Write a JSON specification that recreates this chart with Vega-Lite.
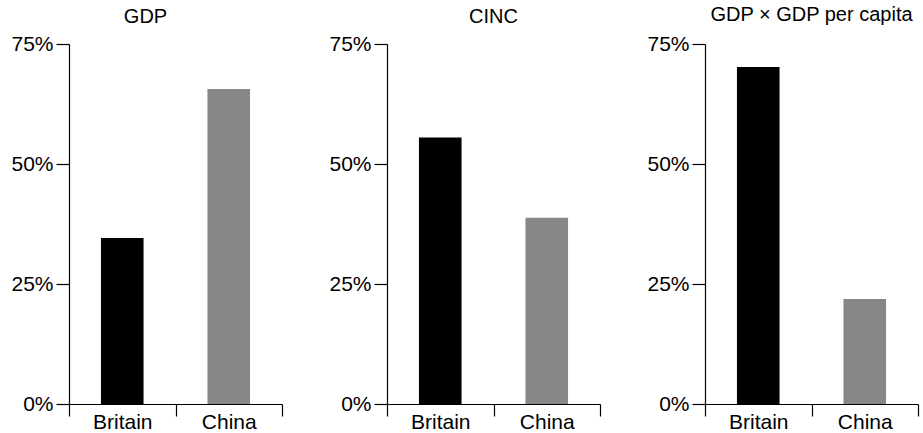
{
  "$schema": "https://vega.github.io/schema/vega-lite/v6.json",
  "padding": {"left": 10, "top": 5, "right": 5, "bottom": 0},
  "background": "white",
  "data": {
    "values": [
      {"measure": "GDP", "country": "Britain", "share": 0.346},
      {"measure": "GDP", "country": "China", "share": 0.656},
      {"measure": "CINC", "country": "Britain", "share": 0.555},
      {"measure": "CINC", "country": "China", "share": 0.388},
      {"measure": "GDPxPC", "country": "Britain", "share": 0.702},
      {"measure": "GDPxPC", "country": "China", "share": 0.219}
    ]
  },
  "spacing": 45,
  "hconcat": [
    {
      "title": {"text": "GDP", "dx": -30},
      "width": 213,
      "height": 360,
      "transform": [{"filter": "datum.measure === 'GDP'"}],
      "mark": {"type": "bar", "width": {"band": 0.4}},
      "encoding": {
        "x": {"field": "country", "type": "nominal", "scale": {"paddingInner": 0, "paddingOuter": 0}},
        "y": {"field": "share", "type": "quantitative", "scale": {"domain": [0, 0.75]}, "axis": {"values": [0, 0.25, 0.5, 0.75], "format": ".0%"}},
        "color": {"field": "country", "type": "nominal", "scale": {"range": ["#000000", "#878787"]}, "legend": null}
      }
    },
    {
      "title": {"text": "CINC"},
      "width": 213,
      "height": 360,
      "transform": [{"filter": "datum.measure === 'CINC'"}],
      "mark": {"type": "bar", "width": {"band": 0.4}},
      "encoding": {
        "x": {"field": "country", "type": "nominal", "scale": {"paddingInner": 0, "paddingOuter": 0}},
        "y": {"field": "share", "type": "quantitative", "scale": {"domain": [0, 0.75]}, "axis": {"values": [0, 0.25, 0.5, 0.75], "format": ".0%"}},
        "color": {"field": "country", "type": "nominal", "scale": {"range": ["#000000", "#878787"]}, "legend": null}
      }
    },
    {
      "title": {"text": "GDP × GDP per capita", "dy": -2},
      "width": 213,
      "height": 360,
      "transform": [{"filter": "datum.measure === 'GDPxPC'"}],
      "mark": {"type": "bar", "width": {"band": 0.4}},
      "encoding": {
        "x": {"field": "country", "type": "nominal", "scale": {"paddingInner": 0, "paddingOuter": 0}},
        "y": {"field": "share", "type": "quantitative", "scale": {"domain": [0, 0.75]}, "axis": {"values": [0, 0.25, 0.5, 0.75], "format": ".0%"}},
        "color": {"field": "country", "type": "nominal", "scale": {"range": ["#000000", "#878787"]}, "legend": null}
      }
    }
  ],
  "config": {
    "view": {"stroke": null},
    "font": "Liberation Sans",
    "title": {"font": "Liberation Sans", "fontSize": 20, "fontWeight": "normal", "color": "#000000", "anchor": "middle", "offset": 6},
    "axis": {
      "title": null,
      "grid": false,
      "domainColor": "#000000",
      "domainWidth": 1.2,
      "tickColor": "#000000",
      "tickWidth": 1.2,
      "labelColor": "#000000",
      "labelFont": "Liberation Sans",
      "labelFontSize": 21
    },
    "axisX": {"tickBand": "extent", "labelAngle": 0, "tickSize": 12, "labelPadding": -5},
    "axisY": {"tickSize": 13, "labelPadding": 3}
  }
}
